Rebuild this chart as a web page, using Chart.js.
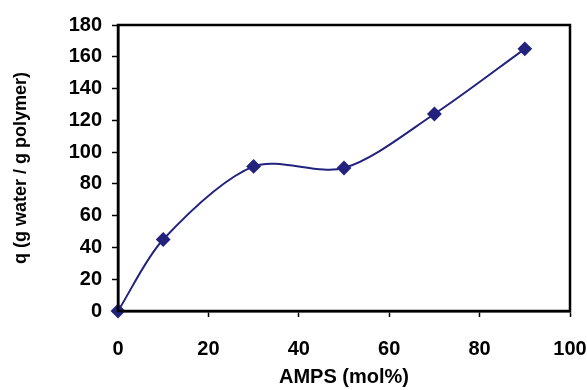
<!DOCTYPE html>
<html>
<head>
<meta charset="utf-8">
<script src="https://cdn.jsdelivr.net/npm/chart.js@4"></script>
<style>
    html, body { margin: 0; padding: 0; background: #fff; }
    #wrap { width: 587px; height: 390px; }
</style>
</head>
<body>
<div id="wrap"><canvas id="chart" width="587" height="390"></canvas></div>
<script>
    // AMPS content vs swelling
    const ampsMol = [0, 10, 30, 50, 70, 90];
    const swelling = [0, 45, 91, 90, 124, 165];
    const xTicks = [0, 20, 40, 60, 80, 100];
    const yTicks = [0, 20, 40, 60, 80, 100, 120, 140, 160, 180];

    const lineColor = '#23237e';
    const tickFont = { family: 'Liberation Sans, Arial, sans-serif', size: 20, weight: 'bold' };

    // frame around the plot area
    const frame = {
        id: 'frame',
        afterDatasetsDraw(chart) {
            const { ctx, chartArea: a } = chart;
            ctx.save();
            ctx.strokeStyle = '#000';
            ctx.lineWidth = 2.5;
            ctx.strokeRect(a.left, a.top, a.right - a.left, a.bottom - a.top);
            ctx.restore();
        }
    };

    new Chart(document.getElementById('chart'), {
        type: 'line',
        data: {
            datasets: [{
                data: ampsMol.map((x, i) => ({ x, y: swelling[i] })),
                borderColor: lineColor,
                backgroundColor: lineColor,
                borderWidth: 2,
                tension: 0.3,
                pointStyle: 'rectRot',
                pointRadius: 6,
                clip: false
            }]
        },
        options: {
            responsive: false,
            animation: false,
            layout: { padding: { top: 25, right: 17, left: 0, bottom: 0 } },
            plugins: { legend: { display: false }, tooltip: { enabled: false } },
            scales: {
                x: {
                    type: 'linear',
                    min: 0,
                    max: 100,
                    afterBuildTicks: (s) => { s.ticks = xTicks.map((v) => ({ value: v })); },
                    afterFit: (s) => { s.height = 79; s.paddingLeft = 0; s.paddingRight = 0; },
                    grid: { drawOnChartArea: false, tickLength: 6, tickColor: '#000', tickWidth: 1.5 },
                    border: { color: '#000', width: 2.5 },
                    ticks: { color: '#000', font: tickFont, padding: 20, maxRotation: 0 },
                    title: {
                        display: true,
                        text: 'AMPS (mol%)',
                        color: '#000',
                        font: { family: 'Liberation Sans, Arial, sans-serif', size: 20, weight: 'bold' },
                        padding: { top: 0, bottom: 1 }
                    }
                },
                y: {
                    type: 'linear',
                    min: 0,
                    max: 180,
                    afterBuildTicks: (s) => { s.ticks = yTicks.map((v) => ({ value: v })); },
                    afterFit: (s) => { s.width = 118; s.paddingTop = 0; s.paddingBottom = 0; },
                    grid: { drawOnChartArea: false, tickLength: 6, tickColor: '#000', tickWidth: 1.5 },
                    border: { color: '#000', width: 2.5 },
                    ticks: { color: '#000', font: tickFont, padding: 10 },
                    title: {
                        display: true,
                        text: 'q (g water / g polymer)',
                        color: '#000',
                        font: { family: 'Liberation Sans, Arial, sans-serif', size: 18, weight: 'bold' },
                        padding: { top: 10, bottom: 0 }
                    }
                }
            }
        },
        plugins: [frame]
    });
</script>
</body>
</html>
